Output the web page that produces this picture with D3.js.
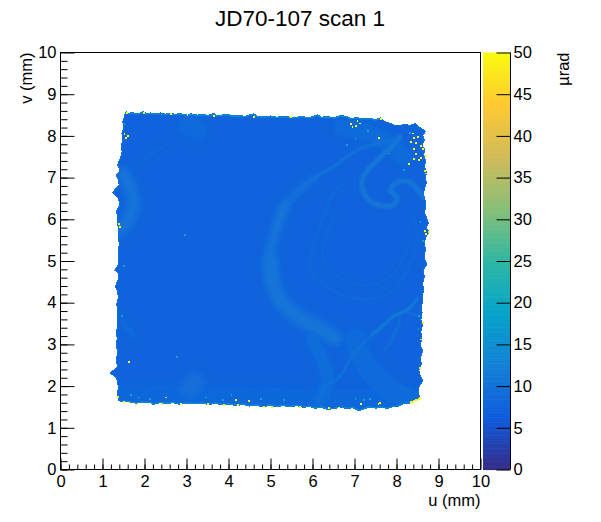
<!DOCTYPE html>
<html>
<head>
<meta charset="utf-8">
<script src="https://cdn.jsdelivr.net/npm/d3@7"></script>
<style>
  body { margin: 0; background: #fff; }
  svg { display: block; }
  text { font-family: "Liberation Sans", Arial, sans-serif; fill: #000; }
</style>
</head>
<body>
<svg id="grafico" width="601" height="522"></svg>
<script>
// bird palette, stops evenly spread over the z range
const birdRed = [0.2082, 0.0592, 0.0780, 0.0232, 0.1802, 0.5301, 0.8186, 0.9956, 0.9764];
const birdGreen = [0.1664, 0.3599, 0.5041, 0.6419, 0.7178, 0.7492, 0.7328, 0.7862, 0.9832];
const birdBlue = [0.5293, 0.8684, 0.8385, 0.7914, 0.6425, 0.4662, 0.3499, 0.1968, 0.0539];

const titleText = "JD70-107 scan 1";
const axisTicks = [0, 1, 2, 3, 4, 5, 6, 7, 8, 9, 10];
const minorTicks = d3.range(0, 50).map(i => i / 5);
const zTicks = [0, 5, 10, 15, 20, 25, 30, 35, 40, 45, 50];
const baseValue = 7.4;

// edge of the scanned area (u, v in mm), clockwise from top left
const edgeTop = [[1.53,8.52],[1.56,8.58],[1.62,8.54],[1.70,8.56],[1.80,8.54],[1.90,8.55],[1.97,8.59],[2.04,8.54],[2.15,8.55],[2.25,8.53],[2.38,8.55],[2.50,8.52],[2.61,8.55],[2.72,8.52],[2.85,8.53],[3.00,8.51],[3.12,8.53],[3.25,8.50],[3.40,8.51],[3.52,8.49],[3.64,8.54],[3.72,8.49],[3.85,8.50],[3.97,8.52],[4.10,8.48],[4.25,8.49],[4.40,8.47],[4.59,8.53],[4.70,8.47],[4.85,8.46],[5.00,8.48],[5.15,8.45],[5.30,8.47],[5.46,8.45],[5.60,8.44],[5.75,8.47],[5.88,8.44],[6.00,8.46],[6.12,8.51],[6.20,8.45],[6.35,8.46],[6.52,8.44],[6.66,8.49],[6.80,8.47],[6.92,8.42],[7.05,8.44],[7.20,8.41],[7.35,8.43],[7.50,8.39],[7.62,8.43],[7.72,8.34],[7.85,8.30],[7.97,8.24],[8.08,8.25],[8.20,8.28],[8.32,8.25],[8.45,8.30],[8.52,8.22],[8.62,8.16],[8.69,8.10],[8.62,8.02]];
const edgeRight = [[8.66,7.90],[8.60,7.78],[8.68,7.66],[8.64,7.54],[8.70,7.40],[8.66,7.26],[8.72,7.12],[8.68,7.00],[8.71,6.88],[8.67,6.74],[8.64,6.60],[8.68,6.46],[8.70,6.30],[8.66,6.18],[8.72,6.02],[8.76,5.90],[8.70,5.78],[8.78,5.70],[8.70,5.58],[8.66,5.44],[8.69,5.28],[8.66,5.14],[8.68,5.02],[8.72,4.92],[8.64,4.78],[8.66,4.62],[8.62,4.46],[8.65,4.30],[8.61,4.18],[8.63,4.04],[8.58,3.90],[8.61,3.76],[8.58,3.60],[8.62,3.46],[8.58,3.30],[8.60,3.14],[8.57,2.98],[8.62,2.84],[8.57,2.68],[8.59,2.52],[8.53,2.38],[8.56,2.26],[8.63,2.12],[8.54,2.00],[8.52,1.86],[8.55,1.72]];
const edgeBottom = [[8.42,1.64],[8.30,1.59],[8.16,1.58],[8.04,1.52],[7.90,1.50],[7.78,1.46],[7.65,1.49],[7.50,1.47],[7.36,1.50],[7.20,1.44],[7.10,1.41],[6.96,1.48],[6.82,1.46],[6.66,1.49],[6.50,1.46],[6.36,1.44],[6.22,1.49],[6.06,1.47],[5.92,1.51],[5.78,1.49],[5.62,1.53],[5.46,1.50],[5.30,1.53],[5.14,1.51],[4.96,1.54],[4.84,1.49],[4.68,1.54],[4.50,1.52],[4.34,1.56],[4.20,1.53],[4.04,1.56],[3.88,1.55],[3.70,1.58],[3.52,1.56],[3.36,1.59],[3.18,1.57],[3.00,1.59],[2.84,1.56],[2.68,1.60],[2.50,1.58],[2.38,1.60],[2.20,1.56],[2.14,1.60],[1.96,1.61],[1.80,1.59],[1.62,1.62],[1.46,1.63],[1.38,1.66]];
const edgeLeft = [[1.35,1.80],[1.38,1.96],[1.36,2.10],[1.33,2.20],[1.18,2.32],[1.26,2.38],[1.36,2.46],[1.33,2.62],[1.36,2.80],[1.33,2.98],[1.35,3.14],[1.33,3.30],[1.37,3.46],[1.35,3.62],[1.37,3.80],[1.34,3.96],[1.38,4.14],[1.35,4.30],[1.30,4.38],[1.37,4.54],[1.39,4.70],[1.29,4.78],[1.37,4.90],[1.39,5.06],[1.37,5.24],[1.40,5.40],[1.38,5.58],[1.39,5.78],[1.35,5.92],[1.37,6.06],[1.33,6.18],[1.41,6.34],[1.38,6.50],[1.25,6.64],[1.30,6.72],[1.40,6.82],[1.37,6.96],[1.33,7.06],[1.42,7.16],[1.36,7.30],[1.42,7.46],[1.47,7.62],[1.44,7.76],[1.49,7.92],[1.46,8.06],[1.51,8.22],[1.48,8.34],[1.52,8.44]];

// raised structure in the scan, centre lines in mm
const arcUpper = [[6.06,7.01],[5.70,6.70],[5.35,6.34],[5.15,5.82]];
const arcMiddle = [[5.35,6.34],[5.15,5.82],[4.99,5.14],[5.04,4.54]];
const arcLower = [[5.00,5.00],[5.04,4.54],[5.23,4.06],[5.70,3.63],[6.18,3.39],[6.54,3.15]];
const arcThin = [[5.70,6.70],[6.06,7.01],[6.49,7.25],[7.06,7.66],[7.61,7.83],[8.08,7.97]];
const swirl = [[8.08,7.97],[7.85,7.71],[7.54,7.42],[7.20,7.01],[7.20,6.70],[7.44,6.39],[7.92,6.34],[8.01,6.53],[7.85,6.70],[8.01,6.89],[8.32,6.89],[8.63,6.53]];
const innerOuter = [[6.77,6.94],[6.42,6.46],[6.18,5.82],[5.94,5.02],[6.01,4.66],[6.35,4.38],[6.89,4.14],[7.54,4.11],[8.01,4.38],[8.25,4.78],[8.49,5.50],[8.39,6.10]];
const innerSecond = [[6.54,6.10],[6.23,5.26],[6.37,4.78],[6.77,4.54],[7.25,4.42],[7.73,4.54],[8.08,4.90],[8.27,5.38]];
const crackMain = [[7.42,3.23],[7.78,3.54],[7.96,3.70],[8.25,3.82],[8.51,4.11]];
const crackBranch = [[7.96,3.70],[8.08,3.66],[7.92,3.18],[7.73,2.87]];
const crackSide = [[8.25,3.78],[8.56,3.66]];
const crackDown = [[7.42,3.23],[7.13,2.94],[6.89,2.63],[6.65,2.22],[6.35,2.03],[6.13,1.67]];
const fuzzLeft = [[5.99,3.11],[6.23,2.63],[6.37,2.15],[6.18,1.67]];
const fuzzRight = [[7.01,3.11],[7.30,2.46],[7.85,1.91],[8.32,1.67]];
const blobLeft = [[1.49,7.11],[1.73,6.53],[1.65,6.06],[1.42,5.74]];
const blobTop = [[3.05,8.25],[3.25,8.15]];
const blobBottom = [[3.08,1.95],[3.20,2.10]];
const blobLowLeft = [[1.42,3.60],[1.75,3.20]];
const faintUpper = [[1.89,7.35],[2.49,7.78]];
const bottomBand = [[1.50,1.85],[3.00,1.80],[5.00,1.75],[7.00,1.70],[8.30,1.80]];
const topRightPatch = [[6.70,8.20],[7.50,8.00],[8.20,7.50]];

// single hot bins
const hotBins = [[6.93,8.24],[7.01,8.26],[6.89,8.30],[7.11,8.32],[7.61,8.42],[7.05,8.38],[7.57,7.98],[8.40,7.98],[8.44,7.86],[8.32,7.88],[8.56,7.78],[8.40,7.70],[8.60,7.70],[8.44,7.58],[8.56,7.50],[8.68,7.54],[8.40,7.46],[8.52,7.44],[8.28,7.34],[8.48,8.00],[8.36,8.08],[8.65,7.18],[8.68,7.12],[8.66,5.74],[8.76,5.72],[8.68,5.68],[8.62,4.22],[8.60,3.54],[8.56,3.14],[8.54,2.45],[8.31,1.64],[8.35,1.65],[8.39,1.67],[8.43,1.68],[8.47,1.70],[8.51,1.72],[8.54,1.74],[7.59,1.61],[7.55,1.60],[6.61,1.51],[6.38,1.49],[7.13,1.59],[1.35,1.76],[1.48,1.65],[1.61,1.63],[1.81,1.60],[2.39,1.60],[1.61,2.60],[2.49,1.75],[2.85,1.60],[3.48,1.60],[3.88,1.57],[4.15,1.68],[4.20,1.56],[4.47,1.67],[4.83,1.53],[5.02,1.53],[5.67,1.53],[1.50,8.06],[1.58,8.02],[1.54,7.97],[1.56,8.58],[1.97,8.58],[2.61,8.54],[3.00,8.52],[3.64,8.50],[4.59,8.48],[5.46,8.47],[1.36,5.90],[1.39,5.83]];
// warm-ish bins near the rim and inside
const warmBins = [[2.95,5.65],[1.50,8.30],[2.75,2.72],[3.85,1.68],[7.00,1.72],[7.20,1.70],[7.35,1.72],[6.80,7.80],[7.00,7.95],[7.30,8.15],[7.80,7.60],[8.15,7.20],[8.55,5.95],[8.60,5.50],[8.52,3.70],[8.50,3.40],[1.65,1.80],[1.85,1.75],[2.10,1.72],[3.45,1.75],[4.05,1.80],[4.75,1.72],[5.30,1.70],[8.30,8.10],[1.48,4.90],[1.45,3.70]];

const margin = { left: 60.5, right: 480.5, top: 52.5, bottom: 469.5 };
const x = d3.scaleLinear().domain([0, 10]).range([margin.left, margin.right]);
const y = d3.scaleLinear().domain([0, 10]).range([margin.bottom, margin.top]);
const zY = d3.scaleLinear().domain([0, 50]).range([margin.bottom, margin.top]);
const stopValues = birdRed.map((_, i) => i * 50 / (birdRed.length - 1));
const stopColors = birdRed.map((r, i) => d3.rgb(r * 255, birdGreen[i] * 255, birdBlue[i] * 255));
const color = d3.scaleLinear().domain(stopValues).range(stopColors).clamp(true);

const svg = d3.select("#grafico");
const defs = svg.append("defs");
const outline = edgeTop.concat(edgeRight, edgeBottom, edgeLeft);
const edgeLine = d3.line().x(d => x(d[0])).y(d => y(d[1]));
const outlinePath = edgeLine(outline) + "Z";

defs.append("clipPath").attr("id", "scan").append("path").attr("d", outlinePath);
[["soft", 3], ["fine", 0.8]].forEach(([id, sd]) => {
  defs.append("filter").attr("id", id)
    .attr("filterUnits", "userSpaceOnUse")
    .attr("x", 0).attr("y", 0).attr("width", 601).attr("height", 522)
    .append("feGaussianBlur").attr("stdDeviation", sd);
});

// scan body
svg.append("path").attr("d", outlinePath)
  .attr("fill", color(baseValue))
  .attr("stroke", color(10)).attr("stroke-width", 1)
  .attr("shape-rendering", "crispEdges");

const curve = d3.line().x(d => x(d[0])).y(d => y(d[1])).curve(d3.curveCatmullRom);
const mmToPx = mm => x(mm) - x(0);
// points, z value, width in mm, blur
const ridges = [
  [bottomBand, 8.4, 0.40, "soft"],
  [topRightPatch, 9, 0.40, "soft"],
  [blobLeft, 10.3, 0.30, "soft"],
  [blobTop, 8.6, 0.48, "soft"],
  [blobBottom, 9.4, 0.46, "soft"],
  [blobLowLeft, 9, 0.14, "soft"],
  [faintUpper, 8.2, 0.10, "fine"],
  [fuzzLeft, 9.3, 0.30, "soft"],
  [fuzzRight, 9, 0.50, "soft"],
  [arcUpper, 10.2, 0.14, "soft"],
  [arcMiddle, 10.2, 0.24, "soft"],
  [arcLower, 10.4, 0.36, "soft"],
  [arcThin, 9.8, 0.08, "fine"],
  [innerOuter, 8.4, 0.08, "fine"],
  [innerSecond, 8.1, 0.06, "fine"],
  [swirl, 10.6, 0.13, "fine"],
  [crackDown, 10, 0.06, "fine"],
  [crackBranch, 10, 0.05, "fine"],
  [crackSide, 10.5, 0.05, "fine"],
  [crackMain, 13.5, 0.05, "fine"]
];

const body = svg.append("g").attr("clip-path", "url(#scan)");
body.selectAll("path.ridge").data(ridges).join("path")
  .attr("class", "ridge")
  .attr("d", d => curve(d[0]))
  .attr("fill", "none")
  .attr("stroke", d => color(d[1]))
  .attr("stroke-width", d => mmToPx(d[2]))
  .attr("stroke-linecap", "round")
  .attr("stroke-linejoin", "round")
  .attr("filter", d => `url(#${d[3]})`);

// brighter rim along the top and bottom of the scan
body.selectAll("path.rim").data([edgeTop.slice(0, 50), edgeBottom.slice(0, 47)]).join("path")
  .attr("class", "rim")
  .attr("d", edgeLine)
  .attr("fill", "none")
  .attr("stroke", color(16))
  .attr("stroke-width", 2);

const binSize = 0.045;
svg.append("g").attr("shape-rendering", "crispEdges")
  .selectAll("rect").data(warmBins).join("rect")
  .attr("x", d => x(d[0])).attr("y", d => y(d[1]))
  .attr("width", mmToPx(binSize)).attr("height", mmToPx(binSize))
  .attr("fill", color(20));
svg.append("g").attr("shape-rendering", "crispEdges")
  .selectAll("rect").data(hotBins).join("rect")
  .attr("x", d => x(d[0])).attr("y", d => y(d[1]))
  .attr("width", mmToPx(binSize)).attr("height", mmToPx(binSize))
  .attr("fill", color(50));

// frame and axes
svg.append("rect")
  .attr("x", margin.left).attr("y", margin.top)
  .attr("width", margin.right - margin.left).attr("height", margin.bottom - margin.top)
  .attr("fill", "none").attr("stroke", "#000").attr("stroke-width", 1);

function tidy(g) {
  g.select(".domain").remove();
  g.selectAll("line").attr("stroke", "#000");
  g.selectAll("text").attr("font-size", 16.5);
}

svg.append("g").attr("transform", `translate(0,${margin.bottom})`)
  .call(d3.axisBottom(x).tickValues(minorTicks).tickSize(-5).tickFormat(""))
  .call(tidy);
svg.append("g").attr("transform", `translate(0,${margin.bottom})`)
  .call(d3.axisBottom(x).tickValues(axisTicks).tickSize(-11).tickPadding(6).tickFormat(d3.format("d")))
  .call(tidy);
svg.append("g").attr("transform", `translate(${margin.left},0)`)
  .call(d3.axisLeft(y).tickValues(minorTicks).tickSize(-7).tickFormat(""))
  .call(tidy);
svg.append("g").attr("transform", `translate(${margin.left},0)`)
  .call(d3.axisLeft(y).tickValues(axisTicks).tickSize(-14).tickPadding(4).tickFormat(d3.format("d")))
  .call(tidy);

// colour bar
const barLeft = 483, barRight = 510;
const barLevels = d3.range(0, 255).map(i => i * 50 / 255);
svg.append("g").selectAll("rect").data(barLevels).join("rect")
  .attr("x", barLeft).attr("width", barRight - barLeft)
  .attr("y", d => zY(d + 50 / 255))
  .attr("height", d => zY(d) - zY(d + 50 / 255) + 0.6)
  .attr("fill", d => color(d + 25 / 255));
svg.append("g").attr("transform", `translate(${barRight + 0.5},0)`)
  .call(d3.axisRight(zY).tickValues(zTicks).tickSize(-14).tickPadding(3).tickFormat(d3.format("d")))
  .call(tidy)
  .call(g => g.append("line")
    .attr("y1", margin.top).attr("y2", margin.bottom)
    .attr("stroke", "#000"));

// labels
svg.append("text").attr("x", 300).attr("y", 26)
  .attr("text-anchor", "middle").attr("font-size", 22.5).text(titleText);
svg.append("text").attr("x", margin.right).attr("y", 506)
  .attr("text-anchor", "end").attr("font-size", 16.5).text("u (mm)");
svg.append("text").attr("transform", `translate(32,${margin.top}) rotate(-90)`)
  .attr("text-anchor", "end").attr("font-size", 16.5).text("v (mm)");
svg.append("text").attr("transform", `translate(569,${margin.top}) rotate(-90)`)
  .attr("text-anchor", "end").attr("font-size", 16.5).text("\u00b5rad");
</script>
</body>
</html>
